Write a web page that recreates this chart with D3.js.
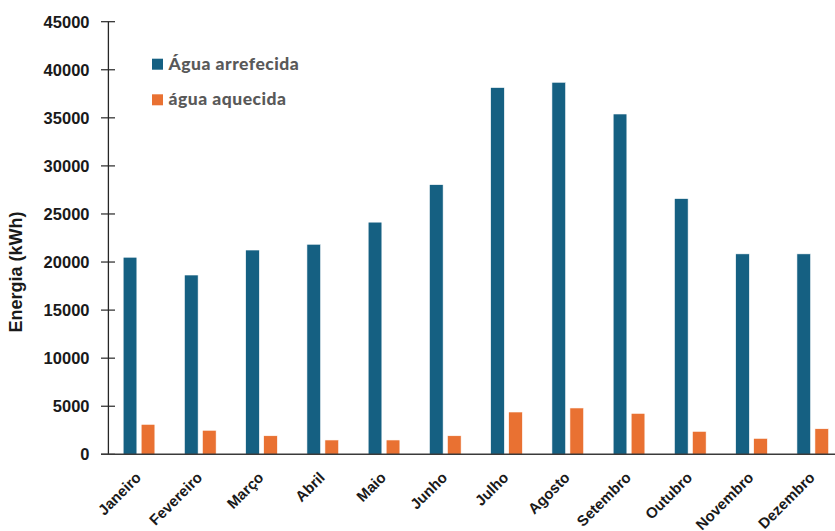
<!DOCTYPE html>
<html>
<head>
<meta charset="utf-8">
<script src="https://cdn.jsdelivr.net/npm/d3@7"></script>
<style>
  html, body { margin: 0; padding: 0; background: #fff; }
  svg { display: block; }
</style>
</head>
<body>
<svg id="chart" width="835" height="531"></svg>
<script>
const months = ["Janeiro","Fevereiro","Março","Abril","Maio","Junho","Julho","Agosto","Setembro","Outubro","Novembro","Dezembro"];
const seriesNames = ["Água arrefecida", "água aquecida"];
const chilled = [20500, 18650, 21250, 21850, 24150, 28050, 38150, 38700, 35400, 26600, 20850, 20850];
const heated  = [3120, 2500, 1930, 1490, 1490, 1930, 4400, 4820, 4260, 2390, 1660, 2660];
const yTicks = [0, 5000, 10000, 15000, 20000, 25000, 30000, 35000, 40000, 45000];
const colors = ["#156082", "#E97132"];

const svg = d3.select("#chart");
const W = 835, H = 531;
const plotLeft = 108.4, plotTop = 21.7, plotBottom = 454.3;
const step = 61.25;

const x = d3.scaleBand().domain(months).range([plotLeft, plotLeft + step * months.length]).padding(0);
const y = d3.scaleLinear().domain([0, 45000]).range([plotBottom, plotTop]);
const groupW = 31.7;
const xs = d3.scaleBand().domain(seriesNames).range([0, groupW]).paddingInner(0.239).paddingOuter(0);

const data = months.map((m, i) => ({ m, vals: [chilled[i], heated[i]] }));

// bars
const g = svg.append("g");
g.selectAll("g.grp").data(data).join("g")
  .attr("class", "grp")
  .attr("transform", d => `translate(${x(d.m) + x.bandwidth() / 2 - groupW / 2},0)`)
  .selectAll("rect")
  .data(d => d.vals.map((v, k) => ({ v, k })))
  .join("rect")
  .attr("x", d => xs(seriesNames[d.k]))
  .attr("width", xs.bandwidth())
  .attr("y", d => y(d.v))
  .attr("height", d => y(0) - y(d.v))
  .attr("fill", d => colors[d.k])
  .attr("stroke", "#ffffff")
  .attr("stroke-width", 0.6);

// y axis
const axisColor = "#262626";
svg.append("line")
  .attr("x1", plotLeft).attr("x2", plotLeft)
  .attr("y1", y(45000)).attr("y2", y(0))
  .attr("stroke", axisColor).attr("stroke-width", 1.3);
const yt = svg.append("g").selectAll("g").data(yTicks).join("g");
yt.append("line")
  .attr("x1", plotLeft - 7.4).attr("x2", plotLeft + 6.6)
  .attr("y1", d => y(d)).attr("y2", d => y(d))
  .attr("stroke", axisColor).attr("stroke-width", 1.2);
yt.append("text")
  .attr("x", 89.5).attr("y", d => y(d))
  .attr("dy", "0.36em")
  .attr("text-anchor", "end")
  .attr("font-family", "Liberation Sans, Arial, sans-serif")
  .attr("font-weight", "bold")
  .attr("font-size", 16.5)
  .attr("fill", "#1a1a1a")
  .text(d => d);

// x axis
svg.append("line")
  .attr("x1", plotLeft - 7.4).attr("x2", W)
  .attr("y1", y(0)).attr("y2", y(0))
  .attr("stroke", "#3a3a3a").attr("stroke-width", 1.4);
svg.append("g").selectAll("text").data(months).join("text")
  .attr("transform", d => `translate(${x(d) + x.bandwidth() / 2 + 3},${478.5}) rotate(-45)`)
  .attr("text-anchor", "end")
  .attr("font-family", "Liberation Sans, Arial, sans-serif")
  .attr("font-weight", "bold")
  .attr("font-size", 15)
  .attr("fill", "#1a1a1a")
  .text(d => d);

// y title
svg.append("text")
  .attr("transform", "translate(21.5,272) rotate(-90)")
  .attr("text-anchor", "middle")
  .attr("font-family", "Liberation Sans, Arial, sans-serif")
  .attr("font-weight", "bold")
  .attr("font-size", 18)
  .attr("fill", "#1a1a1a")
  .text("Energia (kWh)");

// legend
const leg = svg.append("g").selectAll("g").data(seriesNames).join("g")
  .attr("transform", (d, i) => `translate(152,${58.7 + i * 35.6})`);
leg.append("rect")
  .attr("width", 11).attr("height", 11)
  .attr("fill", (d, i) => colors[i]);
leg.append("text")
  .attr("x", 16.5).attr("y", 10.8)
  .attr("font-family", "Lato, sans-serif")
  .attr("font-weight", "900")
  .attr("font-size", 17.5)
  .attr("letter-spacing", 0.5)
  .attr("fill", "#595959")
  .text(d => d);
</script>
</body>
</html>
